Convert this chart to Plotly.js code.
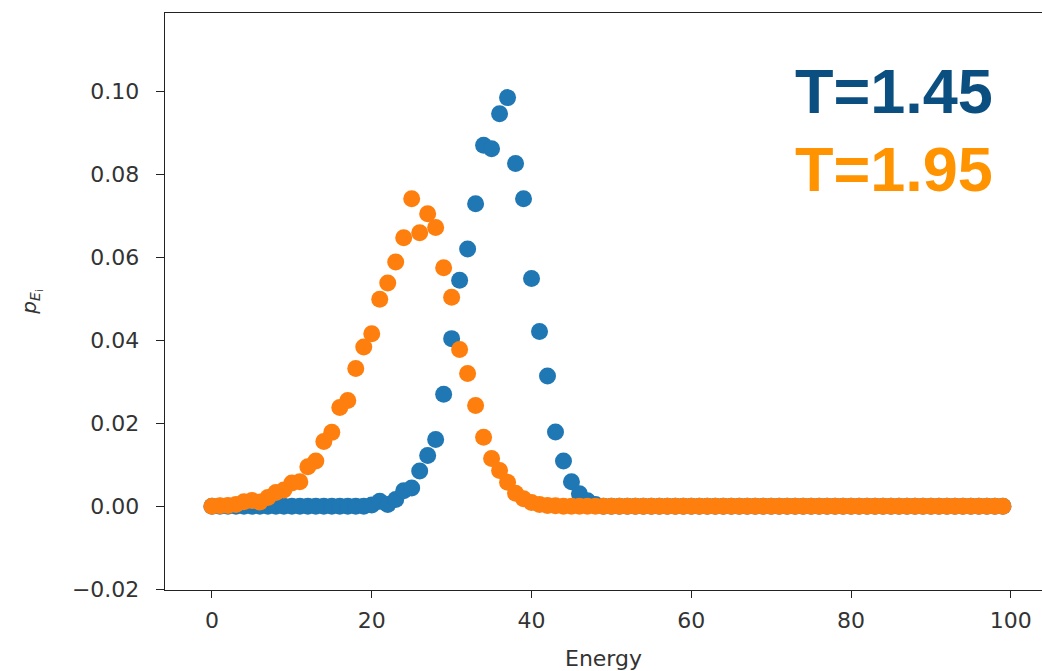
<!DOCTYPE html>
<html>
<head>
<meta charset="utf-8">
<script src="https://cdn.plot.ly/plotly-3.0.1.min.js"></script>
<style>html,body{margin:0;padding:0;background:#fff;}#chart{width:1042px;height:671px;}</style>
</head>
<body>
<div id="chart"></div>
<script>
const energy = [0,1,2,3,4,5,6,7,8,9,10,11,12,13,14,15,16,17,18,19,20,21,22,23,24,25,26,27,28,29,30,31,32,33,34,35,36,37,38,39,40,41,42,43,44,45,46,47,48,49,50,51,52,53,54,55,56,57,58,59,60,61,62,63,64,65,66,67,68,69,70,71,72,73,74,75,76,77,78,79,80,81,82,83,84,85,86,87,88,89,90,91,92,93,94,95,96,97,98,99];

const pT145 = [0,0,0,0,0,0,0,0,0,0,
  0,0,0,0,0,0,0,0,0,0,
  0.0003,0.0012,0.0004,0.0016,0.0037,0.0044,0.0085,0.0122,0.0161,0.0270,
  0.0404,0.0545,0.0620,0.0729,0.0870,0.0862,0.0946,0.0985,0.0826,0.0741,
  0.0549,0.0421,0.0314,0.0179,0.0109,0.0059,0.0030,0.0013,0.0004,0,
  0,0,0,0,0,0,0,0,0,0,
  0,0,0,0,0,0,0,0,0,0,
  0,0,0,0,0,0,0,0,0,0,
  0,0,0,0,0,0,0,0,0,0,
  0,0,0,0,0,0,0,0,0,0];

const pT195 = [0,0.0001,0.0002,0.0004,0.0011,0.0014,0.0010,0.0021,0.0033,0.0039,
  0.0056,0.0059,0.0095,0.0109,0.0156,0.0178,0.0238,0.0255,0.0332,0.0384,
  0.0416,0.0499,0.0538,0.0589,0.0647,0.0741,0.0659,0.0705,0.0672,0.0575,
  0.0504,0.0378,0.0320,0.0243,0.0166,0.0115,0.0086,0.0058,0.0031,0.0018,
  0.0009,0.0004,0.0002,0.0001,0,0,0,0,0,0,
  0,0,0,0,0,0,0,0,0,0,
  0,0,0,0,0,0,0,0,0,0,
  0,0,0,0,0,0,0,0,0,0,
  0,0,0,0,0,0,0,0,0,0,
  0,0,0,0,0,0,0,0,0,0];

const seriesLabels = ["T=1.45", "T=1.95"];
const xTicks = [0,20,40,60,80,100];
const yTicks = [-0.02,0,0.02,0.04,0.06,0.08,0.10];
const yTickText = ["\u22120.02","0.00","0.02","0.04","0.06","0.08","0.10"];

const tickFont = {family: "DejaVu Sans", size: 22, color: "#333"};

const traces = [
  {x: energy, y: pT145, type: "scatter", mode: "markers", name: seriesLabels[0],
   marker: {color: "#1f77b4", size: 17}},
  {x: energy, y: pT195, type: "scatter", mode: "markers", name: seriesLabels[1],
   marker: {color: "#ff7f0e", size: 17}}
];

const layout = {
  width: 1042, height: 671,
  margin: {l: 165, r: 0, t: 13, b: 81, pad: 0},
  paper_bgcolor: "#fff", plot_bgcolor: "#fff",
  showlegend: false,
  xaxis: {
    range: [-5.88, 103.9], tickvals: xTicks, ticktext: xTicks.map(String),
    showgrid: false, zeroline: false, showline: true, mirror: true,
    linecolor: "#222", linewidth: 1.3, ticks: "outside", ticklen: 7, tickcolor: "#222",
    tickfont: tickFont, ticklabelstandoff: 3,
    title: {text: "Energy", font: {family: "DejaVu Sans", size: 22, color: "#333"}, standoff: 20}
  },
  yaxis: {
    range: [-0.0202, 0.1189], tickvals: yTicks, ticktext: yTickText,
    showgrid: false, zeroline: false, showline: true, mirror: false,
    linecolor: "#222", linewidth: 1.3, ticks: "outside", ticklen: 8, tickcolor: "#222",
    tickfont: tickFont, ticklabelstandoff: 12,
    title: {text: "<i>p</i><sub><i>E</i><sub>i</sub></sub>", font: {family: "DejaVu Sans", size: 20, color: "#333"}, standoff: 30}
  },
  annotations: [
    {x: 72.7, y: 0.1002, xref: "x", yref: "y", xanchor: "left", yanchor: "middle",
     text: "<b>" + seriesLabels[0] + "</b>", showarrow: false,
     font: {family: "Liberation Sans", size: 63, color: "#0b4f80"}},
    {x: 72.7, y: 0.0814, xref: "x", yref: "y", xanchor: "left", yanchor: "middle",
     text: "<b>" + seriesLabels[1] + "</b>", showarrow: false,
     font: {family: "Liberation Sans", size: 63, color: "#ff9300"}}
  ]
};

Plotly.newPlot("chart", traces, layout, {displayModeBar: false, staticPlot: true});
</script>
</body>
</html>
